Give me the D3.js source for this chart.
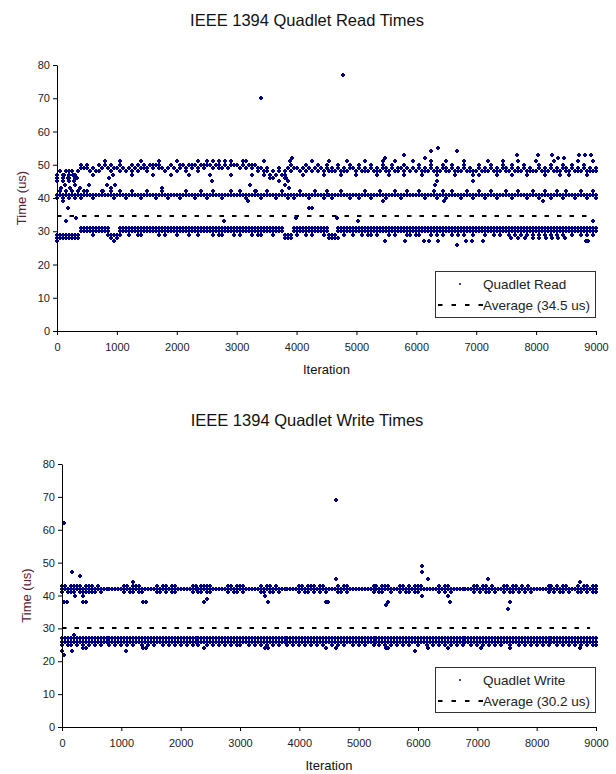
<!DOCTYPE html>
<html>
<head>
<meta charset="utf-8">
<script src="https://cdnjs.cloudflare.com/ajax/libs/d3/7.8.5/d3.min.js"></script>
<style>
body { margin: 0; background: #fff; }
text { font-family: "Liberation Sans", Arial, sans-serif; }
</style>
</head>
<body>
<script>
var SAMPLE_STEP = 50; // one sample every 50 iterations in the band rows below
var xTicks = [0, 1000, 2000, 3000, 4000, 5000, 6000, 7000, 8000, 9000];
var yTicks = [0, 10, 20, 30, 40, 50, 60, 70, 80];

// band rows: each char is a sample, time = base + digit, '.' = no sample
var readBases = [27, 27, 27, 39, 39, 45, 45, 45];
var readRows = [
	"2222222233 3333333310 2333333333 3333333333 3333333333 3333333333 3333333333 3333331113 3333333333 3111333333 3333333333 3333333333 3333333333 3333333333 3333333333 3333333333 3333333333 3333333333 3",
	"1111111144 4444444422 1444444444 4444444444 4444444444 4444444444 4444444444 4444442224 4444444444 4222444444 4444444444 4444444444 4444444444 4444444444 4444444444 4444444444 4444444444 4444444444 4",
	"0.1..1.1.. ..2....2.. .2..2..22. ....2.2... 2...2..2.. ..2.22...2 .2...2.22. ..2...1.1. 2..2.2...2 ..2.1.2..2 ..2.22.2.. .2.2...22. 22...2.2.2 ..2.2.2..2 ...2..2.2. .2.2.2.2.2 .2.2.2.2.2 ..2..2.2.2 .",
	"2222222222 2222222222 2222222222 2222222222 2222222222 2222222222 2222222222 2222222222 2222222222 2222222222 2222222222 2222222222 2222222222 2222222222 2222222222 2222222222 2222222222 2222222222 2",
	"1313131313 3.1..3..31 .3.1.3..1. 3..1.3.1.. .1.3..1.3. 1.3..1..3. .3.1..3.1. 3..1.3.1.1 .3..1.3..1 3.1..3..1. .1.3.1..3. 1..3.1.3.. .3.1..31.3 1.3..1.3.1 .3.1.3.1.. 3.1.3..1.3 .1.3.1.3.1 3..1.3.1.3 1",
	"2323232344 4343545434 4343434544 4545443454 3454545454 5545545455 5454545443 3232323434 4343434343 4343434344 3434343434 4343443434 3434343434 4343434343 3434343434 4343434343 3434343434 4343434343 4",
	"1.2.1.2.5. 5.4.3.5.5. .5.3.5.3.5 3.5.5.3.5. .5.3.5.3.5 6.6.4.6.6. .4.6.5.3.2 4.1.4.2.5. .3.5.3.5.3 5.3.5.3.5. .5.3.5.3.5 3.5.3.5.3. .5.3.5.3.5 3.5.3.5.3. .5.3.5.3.5 3.5.3.5.3. .5.3.5.3.5 3.5.3.5.3. 3",
	"0.1.0.1... ..2...6... .6...2..6. ..2.6...2. 6...2..6.. .2..6...2. ..6..2...6 .1..0.1... ..2..6...2 .6...2.6.. 2..6...2.6 .2.6..2..6 ..2..6.2.. 6..2..6..2 .2..6..2.6 ..2.6..2.. 6..2..6.2. .2..6..2.6 ."
];
var readOutIter = [60, 100, 120, 140, 180, 200, 220, 260, 280, 300, 340, 380, 100, 185, 145, 317,
	535, 770, 830, 870, 900, 930, 970, 1755, 2590, 2790, 3190, 3220, 3330, 3400, 3800, 3830, 3850, 3870, 3890, 3920,
	3990, 4210, 4250, 4680, 4770, 5030, 5445, 5475, 5795, 6145, 6240, 6310, 6340, 6355, 6460, 6680, 6950, 7675,
	8030, 8110, 8260, 8360, 8470, 8720, 8810, 8920, 8950,
	5476, 5810, 6125, 6210, 6360, 6677, 6828, 6928, 7112, 7580, 7700, 7810, 7950, 8050, 8160, 8260, 8360, 8480, 8830, 8870];
var readOutTime = [43, 45, 47, 44, 46, 48, 43, 47, 45, 44, 46, 43, 39, 37, 33, 34,
	44, 42, 44, 46, 43, 47, 44, 43, 45, 33, 39, 44, 42, 70, 44, 46, 45, 43, 51, 52,
	34, 37, 37, 34, 77, 33, 39, 52, 53, 52, 54, 44, 45, 55, 39, 54, 45, 53,
	53, 39, 53, 52, 52, 53, 53, 53, 33,
	27, 27, 27, 27, 27, 26, 27, 27, 27, 28, 28, 28, 28, 28, 28, 28, 28, 28, 27, 27];
var readAverage = 34.5;

var writeBases = [24, 24, 24, 40, 40, 40];
var writeRows = [
	"2222222222 2222222222 2222222222 2222222222 2222222222 2222222222 2222222222 2222222222 2222222222 2222222222 2222222222 2222222222 2222222222 2222222222 2222222222 2222222222 2222222222 2222222222 2",
	"3333333333 3333333333 3333333333 3333333333 3333333333 3333333333 3333333333 3333333333 3333333333 3333333333 3333333333 3333333333 3333333333 3333333333 3333333333 3333333333 3333333333 3333333333 3",
	"1.11.1.1.1 .1.1..1.1. 1.1.1..1.1 .1..1.1.1. 1.1.1.1..1 .1.1.1.1.1 1..1.1.1.1 .1.1..1.1. 1.1.1.1.1. .1.1.1..1. 1.1..1.1.1 .1.1.1.1.. 1..1.1.1.1 .1.1.1..1. 1.1.1.1.1. .1..1.1.1. 1.1.1..1.1 .1.1.1.1.1 1",
	"2222222222 2222222222 2222222222 2222222222 2222222222 2222222222 2222222222 2222222222 2222222222 2222222222 2222222222 2222222222 2222222222 2222222222 2222222222 2222222222 2222222222 2222222222 2",
	"33.3333.33 3.3....... .33.333... ..3.33.33. ....33.333 3.....33.3 33.....3.3 3.3....... 33.333.33. ...3.33... .....33.33 3...33.3.3 33.....3.3 3........3 3.33.3...3 3.33.3.3.. ....33.3.3 3...3.33.3 3",
	"1.111.1111 11.1...... .1.11.11.. ..11.1.11. ....1.11.1 1.....1.11 .1.....11. 11.1...... 1.11.1.1.1 ...11.1... .....1.11. .1..1.11.1 1......1.1 .1.......1 .1.11.1..1 .11.1.1.1. ....1.1.11 .1..11.1.1 1"
];
var writeOutIter = [0, 39, 39, 79, 39, 174, 174, 207, 219, 303, 359, 359, 400, 359, 400, 1079, 1202, 1360, 1416,
	1360, 1416, 2398, 2439, 2398, 3421, 3467, 3421, 3467, 4450, 4488, 4450, 4618, 4618, 4618, 5461, 5500, 5461,
	5500, 5950, 6063, 6063, 6164, 6063, 6164, 6501, 6540, 6501, 7062, 7185, 7522, 7551, 7551, 8731, 8731];
var writeOutTime = [23, 22, 62, 38, 38, 47, 23, 28, 40, 46, 40, 38, 38, 24, 24, 23, 44, 38, 38,
	24, 24, 38, 39, 24, 40, 38, 24, 24, 38, 38, 24, 69, 45, 24, 37, 38, 24,
	24, 23, 49, 47, 45, 40, 24, 40, 38, 24, 24, 45, 36, 38, 24, 44, 24];
var writeAverage = 30.2;

var MARK_COLOR = '#000080';
var MARK_ARM = 2;

var svg = d3.select('body')
	.append('svg')
	.attr('width', 616)
	.attr('height', 774);

drawPanel(svg, {
	title: 'IEEE 1394 Quadlet Read Times',
	titleY: 26,
	left: 57, right: 596, top: 65, bottom: 331,
	labelX: 21,
	points: decodeRows(readBases, readRows).concat(zipPoints(readOutIter, readOutTime)),
	average: readAverage,
	seriesName: 'Quadlet Read',
	legend: {x: 435, y: 271, w: 160, h: 46}
});

drawPanel(svg, {
	title: 'IEEE 1394 Quadlet Write Times',
	titleY: 426,
	left: 62, right: 596, top: 464, bottom: 727,
	labelX: 26,
	points: decodeRows(writeBases, writeRows).concat(zipPoints(writeOutIter, writeOutTime)),
	average: writeAverage,
	seriesName: 'Quadlet Write',
	legend: {x: 435, y: 667, w: 160, h: 45}
});

function decodeRows(bases, rows) {
	var points = [];
	rows.forEach(function (row, r) {
		var chars = row.replace(/ /g, '');
		for (var i = 0; i < chars.length; i++) {
			if (chars[i] !== '.') {
				points.push({iter: i * SAMPLE_STEP, time: bases[r] + (+chars[i])});
			}
		}
	});
	return points;
}

function zipPoints(iters, times) {
	return iters.map(function (it, i) { return {iter: it, time: times[i]}; });
}

function drawPanel(svg, cfg) {
	var x = d3.scaleLinear().domain([0, 9000]).range([cfg.left, cfg.right]);
	var y = d3.scaleLinear().domain([0, 80]).range([cfg.bottom, cfg.top]);
	var g = svg.append('g');

	g.append('text')
		.attr('x', 307)
		.attr('y', cfg.titleY)
		.attr('text-anchor', 'middle')
		.style('font-size', '16.5px')
		.attr('fill', '#111')
		.text(cfg.title);

	// average line
	g.append('line')
		.attr('x1', x(0))
		.attr('x2', x(8900))
		.attr('y1', Math.round(y(cfg.average)))
		.attr('y2', Math.round(y(cfg.average)))
		.attr('stroke', '#000')
		.attr('stroke-width', 2)
		.attr('stroke-dasharray', '4.5,8');

	// points, snapped to whole pixels so the dense bands read as solid
	g.append('g')
		.attr('shape-rendering', 'crispEdges')
		.selectAll('path')
		.data(cfg.points)
		.enter()
		.append('path')
		.attr('d', function (d) {
			var px = Math.round(x(d.iter)), py = Math.round(y(d.time));
			return 'M' + (px - MARK_ARM) + ',' + py + 'H' + (px + MARK_ARM) +
				'M' + px + ',' + (py - MARK_ARM) + 'V' + (py + MARK_ARM);
		})
		.attr('stroke', MARK_COLOR)
		.attr('stroke-width', 2)
		.attr('fill', 'none');

	var yAxis = g.append('g')
		.attr('transform', 'translate(' + cfg.left + ',0)')
		.call(d3.axisLeft(y).tickValues(yTicks).tickSizeInner(4).tickSizeOuter(0).tickPadding(3));
	var xAxis = g.append('g')
		.attr('transform', 'translate(0,' + cfg.bottom + ')')
		.call(d3.axisBottom(x).tickValues(xTicks).tickFormat(d3.format('d'))
			.tickSizeInner(4).tickSizeOuter(0).tickPadding(8));

	[yAxis, xAxis].forEach(function (ax) {
		ax.selectAll('text')
			.style('font-size', '11px')
			.style('font-family', '"Liberation Sans", Arial, sans-serif')
			.attr('fill', '#222');
		ax.selectAll('path, line').attr('stroke', '#000');
	});

	g.append('text')
		.attr('transform', 'translate(' + cfg.labelX + ',' + ((cfg.top + cfg.bottom) / 2) + ') rotate(-90)')
		.attr('text-anchor', 'middle')
		.attr('dy', '0.35em')
		.style('font-size', '13px')
		.attr('fill', '#5a2030')
		.text('Time (us)');

	g.append('text')
		.attr('x', (cfg.left + cfg.right) / 2)
		.attr('y', cfg.bottom + 43)
		.attr('text-anchor', 'middle')
		.style('font-size', '13px')
		.attr('fill', '#111')
		.text('Iteration');

	// legend
	var lg = cfg.legend;
	var leg = g.append('g');
	leg.append('rect')
		.attr('x', lg.x + 0.5)
		.attr('y', lg.y + 0.5)
		.attr('width', lg.w)
		.attr('height', lg.h)
		.attr('fill', '#fff')
		.attr('stroke', '#333');
	var row1 = lg.y + 13, row2 = lg.y + 34;
	leg.append('path')
		.attr('d', 'M' + (lg.x + 24) + ',' + row1 + 'h2M' + (lg.x + 25) + ',' + (row1 - 1) + 'v2')
		.attr('stroke', MARK_COLOR)
		.attr('stroke-width', 1);
	leg.append('line')
		.attr('x1', lg.x + 3)
		.attr('x2', lg.x + 48)
		.attr('y1', row2)
		.attr('y2', row2)
		.attr('stroke', '#000')
		.attr('stroke-width', 2)
		.attr('stroke-dasharray', '4.5,9');
	leg.append('text')
		.attr('x', lg.x + 48)
		.attr('y', row1)
		.attr('dy', '0.35em')
		.style('font-size', '13.5px')
		.attr('fill', '#222')
		.text(cfg.seriesName);
	leg.append('text')
		.attr('x', lg.x + 48)
		.attr('y', row2)
		.attr('dy', '0.35em')
		.style('font-size', '13.5px')
		.attr('fill', '#222')
		.text('Average (' + cfg.average + ' us)');
}
</script>
</body>
</html>
